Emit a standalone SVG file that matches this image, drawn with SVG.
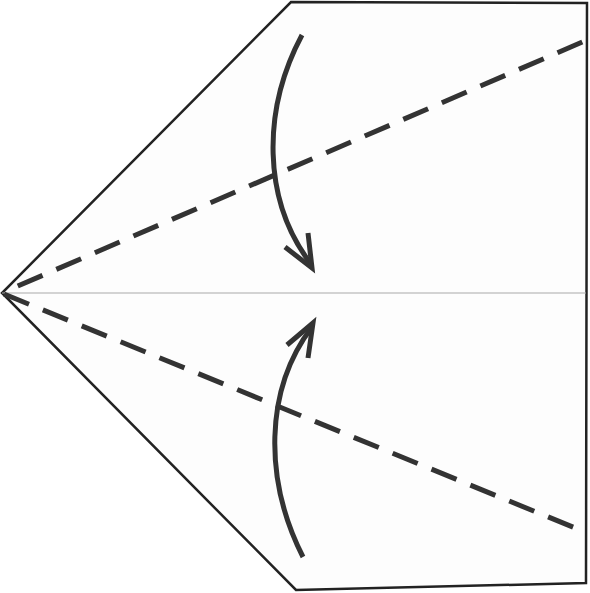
<svg xmlns="http://www.w3.org/2000/svg" width="590" height="593" viewBox="0 0 590 593">
<style>
.paper{fill:#fdfdfd;stroke:#222;stroke-width:2.5;stroke-linejoin:miter}
.center{stroke:#aaa;stroke-width:1.2;fill:none}
.fold{stroke:#333;stroke-width:5;fill:none;stroke-dasharray:27 15}
.arrow{stroke:#333;stroke-width:5;fill:none;stroke-linejoin:miter}
</style>
<rect width="590" height="593" fill="#fff"/>
<g id="paper">
<polygon class="paper" points="291,2 587,3 586,583 296,590 2,293"/>
<line class="center" x1="2" y1="293" x2="586" y2="293"/>
</g>
<g id="connectors">
<line class="fold" x1="4" y1="292" x2="587" y2="40" stroke-dashoffset="27"/>
<line class="fold" x1="4" y1="294" x2="580" y2="530"/>
<g id="arrow-top">
<path class="arrow" d="M302,35 C262,110 262,200 311,264"/>
<polyline class="arrow" points="285,247 312,268 308,233"/>
</g>
<g id="arrow-bottom">
<path class="arrow" d="M303,557 C264,480 264,390 312,327"/>
<polyline class="arrow" points="287,345 313,323 308,358"/>
</g>
</g>
</svg>
